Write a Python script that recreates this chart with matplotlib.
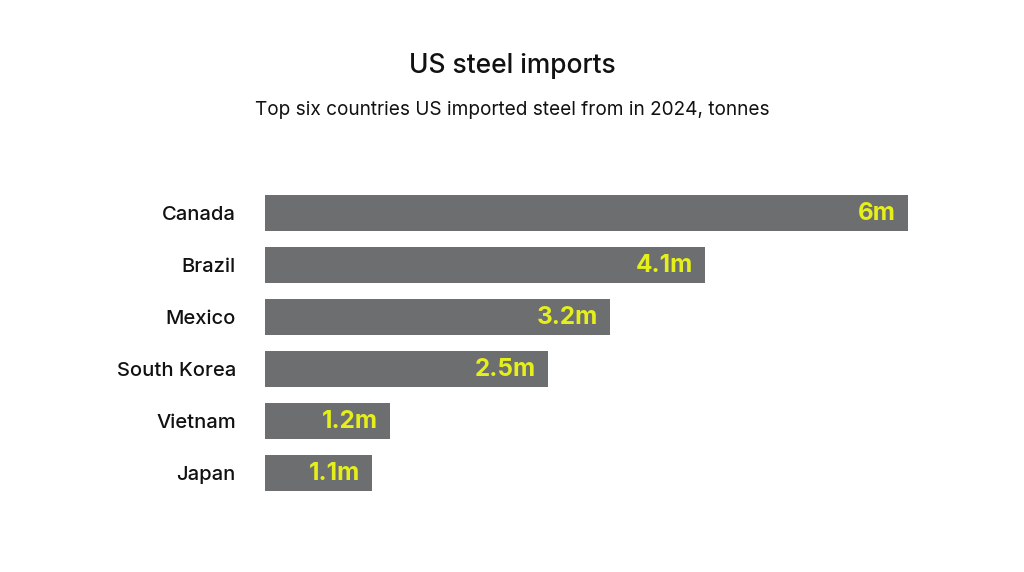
import numpy as np
import matplotlib
matplotlib.use('Agg')
import matplotlib.pyplot as plt

plt.rcParams['font.family'] = ['Inter', 'DejaVu Sans']

# datos
paises = ['Canada', 'Brazil', 'Mexico', 'South Korea', 'Vietnam', 'Japan']
valores = [6.0, 4.11, 3.22, 2.64, 1.17, 1.0]
etiquetas = ['6m', '4.1m', '3.2m', '2.5m', '1.2m', '1.1m']

gris = '#6d6e70'
amarillo = '#e4ef1c'

fig = plt.figure(figsize=(10.24, 5.72), dpi=100)
ax = fig.add_axes([265/1024, 1-499/572, (908-265)/1024, (499-187)/572])

y = np.arange(len(paises))
ax.barh(y, valores, height=0.69, color=gris)
ax.set_xlim(0, 6)
ax.set_ylim(len(paises)-0.5, -0.5)

for i in range(len(paises)):
    ax.annotate(etiquetas[i], (valores[i], y[i]), xytext=(-9, 0),
                textcoords='offset points', ha='right', va='center',
                fontsize=17.5, fontweight='bold', color=amarillo)

ax.set_yticks(y)
ax.set_yticklabels(paises, fontsize=14.5, fontweight='medium', color='#111111')
ax.tick_params(axis='y', length=0, pad=21)
ax.set_xticks([])
for s in ax.spines.values():
    s.set_visible(False)

fig.text(512/1024, 1-66/572, 'US steel imports', ha='center', va='center',
         fontsize=19, fontweight='medium', color='#111111')
fig.text(512/1024, 1-110/572, 'Top six countries US imported steel from in 2024, tonnes',
         ha='center', va='center', fontsize=13.7, color='#111111')

fig.savefig('out.png', dpi=100, facecolor='white')
